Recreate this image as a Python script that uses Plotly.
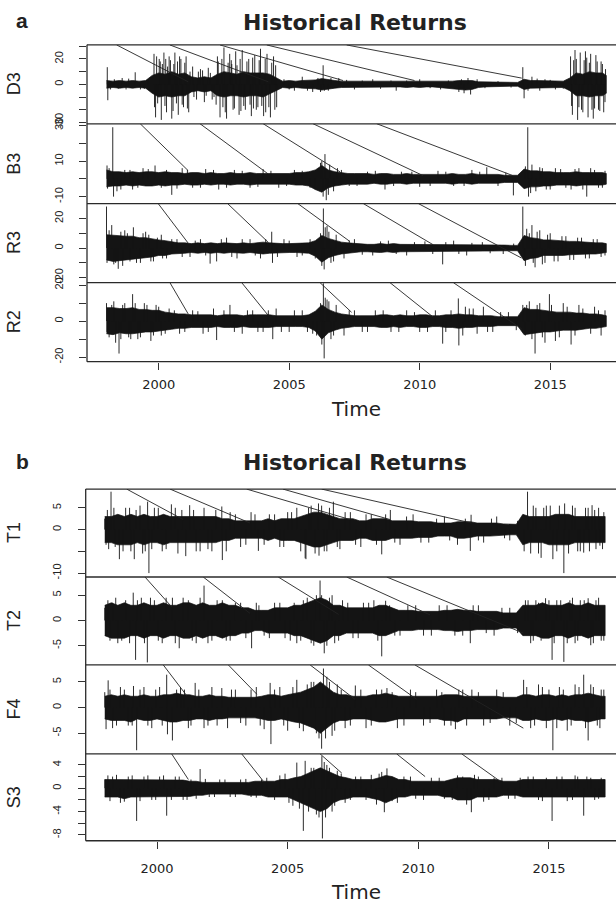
import plotly.graph_objects as go

W, H = 616, 909

# quarterly time grid (plus last observation)
T = [1998.0 + 0.25 * i for i in range(77)] + [2017.15]

# ======================= Panel a =======================
D3_hi = [3, 2.5, 3, 2.5, 3, 2.5, 3, 7, 9, 8,
         10, 8, 9, 6, 5, 6, 5, 8, 10, 9,
         8, 10, 9, 9, 9, 8, 5, 2.5, 3, 2.5,
         3, 3, 3.5, 4.5, 3.5, 3, 2.5, 2.5, 2.5, 2,
         2.5, 2, 2.5, 2, 2, 2, 2.5, 2, 2.5, 2,
         2, 2, 2, 2.5, 3, 3, 3, 2, 2, 1.5,
         1.5, 1.5, 1.5, 1.5, 4, 3, 3, 3, 2.5, 2.5,
         2.5, 5, 9, 8, 10, 9, 9, 7]
D3_lo = [-3, -2.5, -3, -2.5, -3, -2.5, -3, -7, -10, -9,
         -10, -9, -9, -6, -5, -6, -5, -9, -10, -9,
         -9, -10, -9, -9, -10, -8, -5, -2.5, -3, -2.5,
         -3, -3.5, -3.5, -4.5, -3.5, -3, -2.5, -2.5, -2.5, -2,
         -2.5, -2, -2.5, -2, -2, -2, -2.5, -2, -2.5, -2,
         -2, -2, -2.5, -3, -4, -4.5, -4, -2.5, -2, -1.5,
         -1.5, -1.5, -1.5, -1.5, -4, -3, -3, -3, -2.5, -2.5,
         -2.5, -5, -9, -9, -10, -9, -9, -7]
D3_spikes = [
    (1998.03, 13.5), (1998.05, -12.5), (1998.15, -4), (1998.3, 4), (1998.45, -3.5), (1998.6, 5),
    (1998.75, -4), (1998.85, 4.5), (1999.1, 9.5), (1999.3, -4), (1999.45, -3.5), (1999.6, 4),
    (1999.82, 24), (1999.84, -18), (1999.88, -26), (1999.92, 22), (1999.96, -15), (2000.02, 20),
    (2000.06, 18), (2000.1, -28), (2000.14, 16), (2000.2, 25), (2000.24, -17), (2000.27, 20),
    (2000.3, -22), (2000.34, 14), (2000.4, 22), (2000.45, 19), (2000.5, -27), (2000.55, -21),
    (2000.58, 16), (2000.62, 25), (2000.68, -15), (2000.72, 18), (2000.75, -24), (2000.8, 22),
    (2000.85, 20), (2000.9, -16), (2000.95, -18), (2001.0, 17), (2001.05, 22), (2001.1, -19),
    (2001.15, -22), (2001.2, 10), (2001.3, 14), (2001.35, -10), (2001.45, -12), (2001.52, 10),
    (2001.6, 12), (2001.68, 11), (2001.75, -14), (2001.82, -9), (2001.9, 13), (2001.98, 9),
    (2002.05, -12), (2002.12, -10), (2002.2, -16), (2002.25, 22), (2002.28, 18), (2002.35, -26),
    (2002.42, 20), (2002.46, -18), (2002.5, 29), (2002.55, -22), (2002.6, -27), (2002.66, 17),
    (2002.72, 24), (2002.78, 19), (2002.8, 16), (2002.85, -20), (2002.9, -19), (2002.95, 26),
    (2003.0, 15), (2003.08, -24), (2003.12, 20), (2003.15, -21), (2003.2, 27), (2003.26, -17),
    (2003.32, -20), (2003.38, 18), (2003.45, 20), (2003.5, -16), (2003.55, -25), (2003.6, 21),
    (2003.63, -19), (2003.68, 23), (2003.74, -20), (2003.8, -18), (2003.85, 19), (2003.9, 28),
    (2003.95, -17), (2004.02, -25), (2004.08, 20), (2004.1, -22), (2004.15, 24), (2004.22, -18),
    (2004.28, -26), (2004.33, 17), (2004.4, 22), (2004.45, -20), (2004.48, 15), (2004.52, -18),
    (2004.8, 4), (2005.0, -4), (2005.2, -5), (2005.5, 6), (2005.7, -5), (2005.9, -6), (2006.1, 5),
    (2006.2, -6), (2006.3, 15), (2006.35, -5), (2006.5, -5), (2006.6, 5), (2006.9, 5), (2007.2, 3.5),
    (2007.5, -4), (2007.8, 3), (2008.2, 4), (2008.5, -3.5), (2008.9, 3), (2009.1, -5), (2009.5, 3),
    (2010.0, 4), (2010.4, -3), (2010.8, -4), (2011.1, 3), (2011.5, -6), (2011.6, 4), (2011.7, -7),
    (2011.85, 5), (2011.95, -8), (2012.2, 4), (2012.5, -3), (2013.0, 2.5), (2013.5, -2.5),
    (2013.95, 13.5), (2014.0, -11), (2014.15, -5), (2014.3, 6), (2014.5, 4.5), (2014.6, -5),
    (2014.8, 4), (2015.0, 3.5), (2015.2, -4), (2015.5, -3.5),
    (2015.78, 22), (2015.82, -17), (2015.85, -24), (2015.9, 19), (2015.95, 27), (2016.0, 20),
    (2016.05, -28), (2016.1, -18), (2016.15, 25), (2016.2, -20), (2016.25, -22), (2016.3, 19),
    (2016.35, 26), (2016.4, 21), (2016.45, -26), (2016.5, 17), (2016.55, 24), (2016.6, -20),
    (2016.65, -27), (2016.7, -19), (2016.75, 23), (2016.8, 18), (2016.85, -20), (2016.9, -21),
    (2016.95, 18), (2017.0, 16), (2017.05, -22), (2017.1, -14), (2017.12, 12)]
D3_lines = [(1998.39, 31, 2001.13, 2), (2000.43, 31, 2004.2, 2), (2002.35, 31, 2007.06, 3),
            (2004.14, 31, 2009.8, 3), (2007.2, 31, 2013.91, 4.9)]

B3_hi = [5, 4, 4, 3.5, 4, 3.5, 4, 4, 3.5, 4,
         3.5, 3.5, 3, 3.5, 3.5, 3, 3.5, 3, 3, 3.5,
         3, 3, 3.5, 3, 3, 3, 3, 3, 3, 3.5,
         3.5, 4, 5, 7.5, 5, 4, 3.5, 3, 3, 3,
         3, 2.5, 3, 3, 2.5, 2.5, 3, 2.5, 2.5, 2.5,
         2.5, 2.5, 2.5, 3, 2.5, 2.5, 3, 2.5, 2.5, 2.5,
         2.5, 2, 2, 2, 5.5, 4.5, 4.5, 4, 4, 3.5,
         3.5, 3.5, 4, 3.5, 3.5, 3.5, 3.5, 3]
B3_lo = [-4.5, -4, -4, -3.5, -4, -3.5, -4, -4, -3.5, -4,
         -3.5, -3.5, -3, -3.5, -3.5, -3, -3.5, -3, -3, -3.5,
         -3, -3, -3.5, -3, -3, -3, -3, -3, -3, -3.5,
         -3.5, -4, -6, -7.5, -5, -4, -3.5, -3, -3, -3,
         -3, -2.5, -3, -3, -2.5, -2.5, -3, -2.5, -2.5, -2.5,
         -2.5, -2.5, -2.5, -3, -2.5, -2.5, -3, -2.5, -2.5, -2.5,
         -2.5, -2, -2, -2, -5.5, -4.5, -4.5, -4, -4, -3.5,
         -3.5, -3.5, -4, -3.5, -3.5, -3.5, -3.5, -3]
B3_spikes = [
    (1998.02, 7.5), (1998.04, -5.5), (1998.1, 6), (1998.24, 29), (1998.27, -10), (1998.4, -7),
    (1998.55, -6), (1998.7, 5), (1998.9, 5), (1999.0, -6), (1999.2, -5), (1999.4, 6), (1999.6, 5.5),
    (1999.86, 7.5), (2000.1, -5), (2000.3, 5), (2000.5, -9), (2000.7, -5.5), (2000.9, 6),
    (2001.1, 5), (2001.3, -5), (2001.6, -5), (2001.8, 5.5), (2002.1, 5), (2002.3, -6), (2002.6, -5),
    (2002.9, 5), (2003.2, 4.5), (2003.5, -5), (2003.8, -4.5), (2004.0, 5.5), (2004.3, 4.5),
    (2004.6, -5), (2004.9, -4), (2005.2, 5), (2005.5, 4.5), (2005.8, -5), (2006.0, -6), (2006.2, 9),
    (2006.25, 10), (2006.3, -10), (2006.37, 13.9), (2006.42, -12), (2006.5, -9), (2006.55, 8),
    (2006.7, -7), (2006.85, 6), (2007.0, 5), (2007.3, -4), (2007.6, -4), (2008.0, 4), (2008.3, 4.5),
    (2008.67, -6), (2009.0, -4), (2009.3, 4), (2009.7, 4), (2010.0, -4.5), (2010.4, -4), (2010.7, 4.5),
    (2011.0, 4), (2011.3, -4), (2011.7, -4), (2012.0, 5), (2012.3, 4), (2012.57, 6.5), (2013.0, -4),
    (2013.3, 3.5), (2013.59, -9.3), (2014.05, 7), (2014.14, 29), (2014.17, -10), (2014.25, -8),
    (2014.3, 8), (2014.45, -7), (2014.6, 6.5), (2014.7, 6), (2014.85, -6), (2015.0, -6), (2015.2, 6),
    (2015.4, 5.5), (2015.6, -5), (2015.8, -6), (2015.95, 5.5), (2016.1, 6), (2016.25, -6),
    (2016.4, -10), (2016.55, 6), (2016.7, 5), (2016.85, -5), (2017.0, -5), (2017.1, 4.5)]
B3_lines = [(1999.29, 31, 2001.13, 4.6), (2001.58, 31, 2004.19, 2.8), (2004.0, 31, 2006.95, 3.9),
            (2005.91, 31, 2010.13, 1.8), (2008.35, 31, 2013.57, 1.8)]

R3_hi = [9, 8.5, 8.5, 8, 8, 7, 7, 6, 5.5, 5,
         4, 3.5, 3.5, 3, 3.5, 3, 3.5, 3, 3.5, 3,
         3, 3.5, 3, 3.5, 4, 3.5, 3, 3, 3, 3,
         3, 3.5, 5, 8.5, 6.5, 5, 4, 3.5, 3, 2.5,
         2.5, 2.5, 3, 2.5, 3, 2.5, 2.5, 2.5, 2.5, 2.5,
         2.5, 2.5, 2.5, 2.5, 2, 2, 2, 2, 2, 2,
         2, 2, 1.8, 1.8, 8.5, 7, 6.5, 5.5, 5.5, 5,
         5, 4.5, 4.5, 4, 4, 3.5, 3.5, 3]
R3_lo = [-8, -9, -8, -8, -7, -7, -6.5, -6, -5, -5,
         -4, -3.5, -3.5, -3, -3.5, -3, -3.5, -3, -3.5, -3,
         -3, -3.5, -3, -3.5, -4, -3.5, -3, -3, -3, -3,
         -3, -3.5, -5.5, -9.5, -6.5, -5, -4, -3, -3, -2.5,
         -2.5, -2.5, -3, -2.5, -3, -2.5, -2.5, -2.5, -2.5, -2.5,
         -2.5, -2.5, -2.5, -2.5, -2, -2, -2, -2, -2, -2,
         -2, -2, -1.8, -1.8, -8.5, -7, -6.5, -5, -5.5, -5,
         -5, -4.5, -4.5, -4, -4, -4, -3.5, -3]
R3_spikes = [
    (1998.0, 28), (1998.02, -10), (1998.1, 12), (1998.2, 15.5), (1998.28, -11), (1998.35, -10),
    (1998.45, -14), (1998.55, 11), (1998.62, -12), (1998.7, 12), (1998.8, 10), (1998.9, -9),
    (1999.03, 14), (1999.15, -10), (1999.3, -10), (1999.4, 10), (1999.5, 11), (1999.62, 9),
    (1999.7, -9), (1999.8, -9), (1999.95, 7), (2000.1, 9), (2000.15, -7), (2000.3, -7), (2000.5, 6),
    (2000.7, 6), (2000.9, -6), (2001.2, -6), (2001.4, 5), (2001.6, 6), (2001.8, -5), (2001.97, -10.5),
    (2002.22, -9), (2002.4, 6), (2002.6, 7), (2002.8, -6), (2003.0, -7), (2003.2, 6), (2003.5, 6),
    (2003.7, -5), (2003.9, -7), (2004.1, 6), (2004.33, 11), (2004.36, -10), (2004.55, -6),
    (2004.8, 6), (2005.0, 5), (2005.3, -6), (2005.5, -5), (2005.8, 6), (2006.0, -7), (2006.2, 10),
    (2006.25, -12), (2006.31, 26.7), (2006.34, -14.4), (2006.38, 14), (2006.45, 15), (2006.52, 11),
    (2006.6, -10), (2006.7, -9), (2006.8, 9), (2007.1, -7), (2007.3, 5), (2007.5, 6), (2007.8, -4.5),
    (2008.2, -5), (2008.5, 4.5), (2008.8, 5), (2009.1, -4), (2009.5, -5), (2009.8, 4), (2010.2, 4.5),
    (2010.5, -4), (2010.88, -11), (2011.0, 4), (2011.3, 5), (2011.5, -4), (2011.8, -5), (2012.0, 3.5),
    (2012.4, 4), (2012.7, -3.5), (2013.2, -4), (2013.6, 3), (2013.95, 28), (2013.98, -8),
    (2014.05, -12), (2014.1, 13), (2014.2, 10), (2014.3, 15.5), (2014.35, -10), (2014.42, -13),
    (2014.5, 11), (2014.6, 12), (2014.7, -11), (2014.8, -10), (2014.9, 9), (2015.0, 10),
    (2015.15, -9), (2015.3, -9), (2015.45, 8), (2015.6, 8), (2015.75, -8), (2015.9, -8), (2016.05, 7),
    (2016.2, 7), (2016.35, -7), (2016.5, -7), (2016.65, 6), (2016.8, 6), (2016.95, -6), (2017.1, -5)]
R3_lines = [(1999.98, 30, 2001.13, 3.3), (2002.64, 30, 2004.2, 3.8), (2005.33, 30, 2007.33, 4.4),
            (2007.84, 30, 2010.52, 2.2), (2009.95, 30, 2013.9, -6.7)]

R2_hi = [7.5, 7.5, 7, 7, 7.5, 6.5, 6.5, 6, 6, 5,
         4.5, 4, 4, 3.5, 3.5, 3.5, 3.5, 3, 3.5, 3.5,
         3.5, 3, 3.5, 3.5, 3.5, 3.5, 3, 3, 3, 3,
         3, 3.5, 5.5, 9, 6.5, 5, 4, 3.5, 3, 3,
         3, 3, 3.5, 3.5, 3, 3.5, 3, 3, 3.5, 3.5,
         3, 3, 3.5, 3.5, 4, 3.5, 3.5, 3, 3, 3,
         2.5, 2.5, 2.5, 2.5, 7.5, 6.5, 6.5, 6, 5.5, 5,
         5, 5, 4.5, 4.5, 4, 4, 3.5, 3]
R2_lo = [-7, -7.5, -6.5, -7, -7, -6.5, -6, -6, -5.5, -5,
         -4.5, -4, -4, -3.5, -3.5, -3.5, -3.5, -3, -3.5, -3.5,
         -3.5, -3, -3.5, -3.5, -3.5, -3.5, -3, -3, -3, -3,
         -3, -3.5, -5.5, -10, -6.5, -5, -4, -3.5, -3, -3,
         -3, -3, -3.5, -3.5, -3, -3.5, -3, -3, -3.5, -3.5,
         -3, -3, -3.5, -3.5, -4, -3.5, -3.5, -3, -3, -3,
         -2.5, -2.5, -2.5, -2.5, -7.5, -7, -6.5, -6, -6, -5.5,
         -5, -5, -5, -4.5, -4, -4, -3.5, -3]
R2_spikes = [
    (1998.0, 10), (1998.02, -6), (1998.1, -9), (1998.2, 9), (1998.28, 11), (1998.35, -12),
    (1998.48, -18), (1998.55, -10), (1998.62, 9), (1998.7, 10), (1998.85, -9), (1998.93, -10),
    (1999.0, 15), (1999.1, 10), (1999.2, -10), (1999.3, -9), (1999.45, 10), (1999.55, 9),
    (1999.7, -11), (1999.8, -8), (1999.9, 9), (2000.0, 8), (2000.1, -8), (2000.25, -7), (2000.4, 7),
    (2000.6, 6), (2000.8, -7), (2001.0, -6), (2001.3, 6), (2001.5, 5.5), (2001.7, -7), (2001.9, -6),
    (2002.1, 7), (2002.22, -10.5), (2002.5, 6), (2002.73, 9), (2002.9, -6), (2003.2, -7), (2003.4, 6),
    (2003.6, 6), (2003.8, -6), (2004.0, -6), (2004.2, 6), (2004.37, -10), (2004.5, 7), (2004.7, -6),
    (2005.0, -6), (2005.2, 6), (2005.5, 6), (2005.7, -6), (2005.9, -7), (2006.05, -8), (2006.2, 10),
    (2006.25, -13), (2006.31, 21), (2006.34, -20.7), (2006.38, 13), (2006.45, 12), (2006.52, 11),
    (2006.6, -10), (2006.7, -8), (2006.8, 9), (2007.1, -8), (2007.3, 6), (2007.5, 6), (2007.8, -6),
    (2008.0, -6), (2008.3, 6), (2008.6, 6), (2008.9, -6), (2009.2, -6), (2009.5, 6), (2009.8, 5),
    (2010.0, -6), (2010.3, -6), (2010.6, 6), (2010.88, -12.5), (2011.0, -6), (2011.2, 6),
    (2011.48, 12.6), (2011.5, -13.5), (2011.65, -8), (2011.75, 8), (2011.9, 7), (2012.05, 7),
    (2012.2, -7), (2012.44, 8), (2012.6, -6), (2012.8, -6), (2013.1, 5), (2013.4, 5), (2013.7, -5),
    (2013.95, 9), (2014.05, -8), (2014.1, 9), (2014.2, 11), (2014.3, -10), (2014.42, -18),
    (2014.5, 9), (2014.6, 10), (2014.7, -9), (2014.8, -12), (2014.97, 15), (2015.05, 9),
    (2015.2, -11), (2015.35, -9), (2015.5, 10), (2015.65, 8), (2015.8, -13), (2015.95, -8),
    (2016.1, 9), (2016.25, 7), (2016.55, -7), (2016.7, 8), (2016.85, 6), (2016.95, -8), (2017.1, 6)]
R2_lines = [(2000.43, 21.4, 2001.13, 4), (2003.18, 21.4, 2004.2, 3.1), (2006.18, 21.4, 2007.39, 4.9),
            (2008.86, 21.4, 2010.52, 2.2), (2011.29, 21.4, 2013.9, -4.2)]

# ======================= Panel b =======================
T1_hi = [3, 3, 3.5, 3, 3.5, 3, 3.5, 3, 3, 3.5,
         3, 3, 3, 3, 3, 3, 3, 3, 2.5, 2.5,
         2, 2, 2, 2, 2, 2.5, 2, 2.5, 2.5, 2.5,
         3, 3.5, 4, 4, 3.5, 3, 2.5, 2.5, 2.5, 2,
         2, 2.5, 2.5, 2.5, 2, 2, 2, 2, 1.8, 1.8,
         1.8, 1.5, 1.5, 1.5, 1.8, 1.8, 1.8, 1.5, 1.5, 1.5,
         1.5, 1.3, 1.2, 1.2, 3.5, 3, 3, 3, 3, 3.5,
         3.5, 3.5, 3, 3, 3, 3, 3, 3]
T1_lo = [-3, -3, -3.5, -3.5, -3.5, -3, -3.5, -3, -3, -3.5,
         -3, -3, -3, -3, -3, -3, -3, -3, -2.5, -2.5,
         -2, -2, -2, -2, -2, -2.5, -2, -2.5, -2.5, -2.5,
         -3, -3.5, -4, -4, -3.5, -3, -2.5, -2.5, -2.5, -2,
         -2, -2.5, -2.5, -2.5, -2, -2, -2, -2, -1.8, -1.8,
         -1.8, -1.5, -1.5, -1.5, -2, -2, -1.8, -1.5, -1.5, -1.5,
         -1.5, -1.3, -1.2, -1.2, -3.5, -3, -3, -3, -3.5, -3.5,
         -3.5, -3.5, -3, -3, -3, -3, -3, -3]
T1_spikes = [
    (1998.0, 2.5), (1998.05, -3.5), (1998.1, 4.5), (1998.15, -4.5), (1998.24, 8.7), (1998.35, 5),
    (1998.4, -4), (1998.56, -6.8), (1998.7, -5), (1998.8, 5), (1998.95, 5), (1999.0, -5),
    (1999.13, -6.8), (1999.2, 4.5), (1999.35, 5.5), (1999.45, -5.5), (1999.55, -5), (1999.64, 6.4),
    (1999.69, -10), (1999.8, -4.5), (1999.9, 5), (2000.05, 5), (2000.2, -5), (2000.35, -4.5),
    (2000.55, 5.8), (2000.7, 5), (2000.8, -5.5), (2000.95, 4.5), (2001.1, -6.1), (2001.25, 5.6),
    (2001.4, 4.5), (2001.5, -5), (2001.65, -5), (2001.8, 5), (2001.95, -4.5), (2002.1, -5),
    (2002.25, 4.5), (2002.48, 5.3), (2002.5, -7), (2002.65, -5), (2002.8, 4), (2003.0, 3.5),
    (2003.2, -4), (2003.4, -3.5), (2003.6, 4), (2003.75, 3.5), (2003.88, -4.9), (2004.1, -3.5),
    (2004.3, 3.5), (2004.5, 3.5), (2004.7, -4), (2004.85, -4), (2005.0, 4), (2005.15, 4),
    (2005.35, 5), (2005.5, -5), (2005.67, -6.6), (2005.7, -6.8), (2005.8, 5), (2005.9, 5.5),
    (2006.05, -5.5), (2006.18, 6), (2006.2, -6), (2006.3, 5.5), (2006.4, -5), (2006.5, -5),
    (2006.6, 5), (2006.75, 6.4), (2006.9, -4), (2007.0, -4.5), (2007.2, 4), (2007.4, 4),
    (2007.6, -3.5), (2007.8, -4), (2008.0, 3.5), (2008.2, 3.5), (2008.4, -3.5), (2008.6, -5.7),
    (2008.75, 3.5), (2008.93, 4.5), (2009.1, -3), (2009.3, -3.5), (2009.55, 3), (2009.8, 3.5),
    (2010.1, -3), (2010.4, -3), (2010.7, 2.5), (2011.0, 3), (2011.2, -2.5), (2011.5, -3.5),
    (2011.8, 2.5), (2011.99, -4.9), (2012.02, 3.4), (2012.3, -2.5), (2012.5, -3), (2012.8, 2.5),
    (2013.0, 3), (2013.3, -2), (2013.5, -2.5), (2013.8, 2), (2014.05, -5), (2014.18, 8.7),
    (2014.3, -5.5), (2014.4, 5.5), (2014.5, 5), (2014.6, -5.5), (2014.7, -6.5), (2014.8, 5),
    (2014.9, 5.5), (2015.05, 5.5), (2015.15, -6.8), (2015.3, -5), (2015.4, 5.5), (2015.57, -10),
    (2015.6, 6), (2015.75, -5.5), (2015.9, 5.5), (2016.0, 5), (2016.1, -5), (2016.2, -5),
    (2016.33, -5.3), (2016.4, 5), (2016.5, 5), (2016.55, -5), (2016.65, 5.6), (2016.75, 4.5),
    (2016.8, -4.5), (2016.9, 5), (2016.95, -3.7), (2017.05, -4.5), (2017.1, 4)]
T1_lines = [(1998.84, 9.3, 2001.0, 2.3), (2000.5, 9.3, 2003.56, 1.5), (2003.43, 9.3, 2007.39, 2.3),
            (2004.82, 9.3, 2008.92, 2.3), (2006.3, 9.3, 2012.04, 1.5)]

T2_hi = [3, 3.5, 3, 3.5, 3, 3, 3.5, 3, 3, 3.5,
         3, 3, 3.5, 3.5, 3, 3.5, 3, 3, 3.5, 3,
         3, 2.5, 2.5, 2, 2, 2, 2.5, 2.5, 2.5, 3,
         3, 3.5, 4, 4.5, 4, 3, 3, 2.5, 2.5, 2.5,
         2.5, 2.5, 3, 3, 2.5, 2, 2, 2, 1.8, 1.8,
         1.8, 1.8, 2, 2, 2.2, 2, 2, 1.8, 1.8, 1.8,
         1.8, 1.5, 1.5, 1.5, 3, 3, 3, 3.5, 3, 3,
         3, 3.5, 3, 3, 3.5, 3, 3, 3]
T2_lo = [-3, -3.5, -3.5, -3.5, -3, -3, -3.5, -3, -3, -3.5,
         -3, -3, -3.5, -3.5, -3, -3.5, -3, -3, -3.5, -3,
         -3, -2.5, -2.5, -2, -2, -2.5, -2.5, -2.5, -2.5, -3,
         -3, -3.5, -4, -4.5, -4, -3, -3, -2.5, -2.5, -2.5,
         -2.5, -2.5, -3, -3, -2.5, -2, -2, -2, -1.8, -1.8,
         -1.8, -1.8, -2, -2, -2.2, -2, -2, -1.8, -1.8, -1.8,
         -1.8, -1.5, -1.5, -1.5, -3, -3, -3, -3.5, -3.5, -3,
         -3, -3.5, -3, -3, -3.5, -3, -3, -3]
T2_spikes = [
    (1998.0, 2.5), (1998.03, -3), (1998.12, 4), (1998.2, -4), (1998.3, 3.5), (1998.42, 4.5),
    (1998.5, -4.5), (1998.65, -4), (1998.8, 4), (1998.95, -4.5), (1999.09, 5.5), (1999.18, -7.8),
    (1999.25, 4), (1999.4, 4.5), (1999.52, -4.5), (1999.63, -8.3), (1999.75, 4.5), (1999.9, 4),
    (2000.05, -4), (2000.2, -4.5), (2000.35, 4.5), (2000.59, 4.5), (2000.7, -4.5), (2000.85, -5.5),
    (2001.0, 4.5), (2001.2, 4), (2001.35, -4), (2001.5, -4.5), (2001.65, 4.5), (2001.8, 6.9),
    (2001.95, -4.5), (2002.1, -4), (2002.3, 4), (2002.5, 4), (2002.65, -4), (2002.8, -4),
    (2003.0, 3.5), (2003.2, 3.5), (2003.4, -3.5), (2003.62, -5.5), (2003.8, 3.5), (2003.9, 3),
    (2004.1, -3), (2004.3, -3.5), (2004.5, 3.5), (2004.7, 3.5), (2004.9, -3.5), (2005.1, -4),
    (2005.25, 3.5), (2005.35, -4.5), (2005.5, -4), (2005.6, 4), (2005.75, 4.5), (2005.9, -4.5),
    (2006.0, -5), (2006.1, 5), (2006.24, 7.9), (2006.3, 5), (2006.4, -6.5), (2006.5, -5),
    (2006.6, 4.5), (2006.7, 5), (2006.8, -4.5), (2006.95, -4), (2007.1, 4), (2007.3, 3.5),
    (2007.5, -3.5), (2007.7, -3.5), (2007.9, 3.5), (2008.1, 3.5), (2008.3, 4), (2008.45, -4),
    (2008.6, -7.1), (2008.75, 3.9), (2008.9, 3), (2009.1, -3), (2009.3, -3), (2009.6, 3),
    (2009.9, 3), (2010.2, -3), (2010.5, -3), (2010.8, 3), (2011.1, 3), (2011.4, -3), (2011.7, -3),
    (2011.99, -4.5), (2012.1, 3), (2012.3, 3), (2012.6, -2.5), (2012.9, -3), (2013.2, 2.5),
    (2013.5, 2.5), (2013.8, -2.5), (2014.1, 4), (2014.2, 4), (2014.3, -4.5), (2014.4, -4),
    (2014.5, 4), (2014.6, 3.5), (2014.7, -4), (2014.87, 4.4), (2015.0, 4), (2015.12, -7.8),
    (2015.2, -4.5), (2015.3, 4), (2015.45, 4), (2015.57, -8.2), (2015.7, -4.5), (2015.8, 4),
    (2015.9, 4.5), (2016.0, -4.5), (2016.1, -4), (2016.2, 4), (2016.35, 4), (2016.5, 4.4),
    (2016.6, -4.9), (2016.7, -4.5), (2016.8, 4), (2016.9, 4.5), (2017.0, -4), (2017.1, -4)]
T2_lines = [(1999.54, 8.6, 2000.56, 2.7), (2001.77, 8.6, 2003.56, 1.4), (2004.64, 8.6, 2006.95, 1.2),
            (2007.26, 8.6, 2010.45, 1.1), (2008.79, 8.6, 2014.02, -2.5)]

F4_hi = [2.2, 2.5, 2.2, 2.5, 2.2, 2.2, 2.5, 2.2, 2.2, 2.5,
         2.5, 2.8, 2.5, 2.5, 2.2, 2.2, 2.5, 2.2, 2.2, 2,
         2, 2, 2, 2, 2.2, 2.5, 2.5, 2.2, 2.5, 2.8,
         3, 3.5, 4, 5, 4, 3, 2.5, 2.5, 2.2, 2.2,
         2.2, 2.5, 2.5, 2.8, 2.5, 2.2, 2.2, 2.2, 2.2, 2.2,
         2.2, 2.2, 2.5, 2.5, 2.5, 2.2, 2.2, 2.2, 2.2, 2.2,
         2.2, 2, 2, 2, 2.5, 2.5, 2.2, 2.5, 2.5, 2.2,
         2.5, 2.2, 2.5, 2.5, 2.8, 2.5, 2.2, 2.2]
F4_lo = [-2.2, -2.5, -2.5, -2.5, -2.8, -2.2, -2.5, -2.5, -2.2, -2.5,
         -2.8, -2.8, -2.5, -2.5, -2.2, -2.2, -2.5, -2.2, -2.2, -2,
         -2, -2, -2, -2, -2.2, -2.5, -2.5, -2.2, -2.5, -2.8,
         -3, -3.5, -4, -5, -4, -3, -2.5, -2.5, -2.2, -2.2,
         -2.2, -2.5, -2.8, -2.8, -2.5, -2.2, -2.2, -2.2, -2.2, -2.2,
         -2.2, -2.2, -2.5, -2.5, -2.8, -2.2, -2.2, -2.2, -2.2, -2.2,
         -2.2, -2, -2, -2, -2.5, -2.5, -2.2, -2.5, -2.5, -2.2,
         -2.5, -2.2, -2.5, -2.5, -2.8, -2.5, -2.2, -2.2]
F4_spikes = [
    (1998.0, 3), (1998.05, -4.2), (1998.13, 5.3), (1998.2, 3.5), (1998.3, -4), (1998.45, -3.5),
    (1998.6, 4), (1998.75, 3.5), (1998.9, -3.5), (1999.05, -3.5), (1999.1, 4.2), (1999.22, -8.3),
    (1999.35, 3.5), (1999.5, 4), (1999.65, -3.5), (1999.8, -4), (1999.95, 3.5), (2000.1, 4),
    (2000.2, -3.5), (2000.37, 6.4), (2000.4, -5.2), (2000.59, -6.4), (2000.75, 3.5), (2000.9, 4),
    (2001.05, 3.5), (2001.2, -4), (2001.3, -3.5), (2001.46, 4.8), (2001.6, 3.5), (2001.8, -4),
    (2001.95, -3.5), (2002.1, 4), (2002.3, -3.5), (2002.48, 3.8), (2002.7, -4), (2002.85, 3.5),
    (2003.0, 3.5), (2003.2, -3), (2003.4, -3.5), (2003.6, 3.5), (2003.8, 4), (2003.95, -3.5),
    (2004.1, -4.2), (2004.33, 4.8), (2004.36, -7.1), (2004.5, 3.5), (2004.7, 4), (2004.85, -3.5),
    (2005.0, -4.5), (2005.2, 4), (2005.35, 5.4), (2005.45, -4), (2005.6, -4.6), (2005.75, 4.5),
    (2005.9, 5), (2006.0, 5), (2006.1, -5), (2006.2, -6), (2006.3, -8.0), (2006.37, 7.6),
    (2006.45, -6), (2006.5, 6), (2006.6, 5), (2006.7, -5.5), (2006.8, -4.5), (2006.9, 4.5),
    (2007.05, 3.5), (2007.2, -4), (2007.4, -3.5), (2007.59, 4.3), (2007.8, 3.5), (2008.0, -4),
    (2008.2, -3.5), (2008.4, 3.5), (2008.6, 3.5), (2008.8, 3.8), (2009.0, 3), (2009.2, -4),
    (2009.45, -3.5), (2009.7, 3.5), (2009.9, 3), (2010.2, -3.5), (2010.45, -3), (2010.7, 3.5),
    (2010.9, 3), (2011.0, -3.5), (2011.25, -3.5), (2011.42, -4.2), (2011.55, 3.5), (2011.7, 3.5),
    (2011.85, -3.5), (2012.05, 3.5), (2012.3, 3), (2012.5, -3.5), (2012.75, -3), (2013.0, 3.5),
    (2013.25, 3), (2013.5, -3.5), (2013.75, -3), (2014.03, 5.4), (2014.15, 4), (2014.3, -4),
    (2014.45, -3.5), (2014.6, 4.5), (2014.75, 4), (2014.9, -4), (2015.0, 3.5), (2015.15, -8.3),
    (2015.3, -4), (2015.4, 4), (2015.55, 3.5), (2015.7, -4.5), (2015.85, -3.5), (2016.0, 4.5),
    (2016.15, 4), (2016.33, 6.4), (2016.4, -4), (2016.5, -6.4), (2016.6, 4.5), (2016.7, 4),
    (2016.85, -3.5), (2016.95, -4), (2017.0, 3.5), (2017.1, 3.5)]
F4_lines = [(2000.24, 8.3, 2001.14, 2.3), (2002.73, 8.3, 2003.82, 2.6), (2005.86, 8.3, 2007.58, 1.6),
            (2008.09, 8.3, 2009.94, 1.6), (2009.87, 8.3, 2014.02, -4.0)]

S3_hi = [1.5, 1.5, 1.5, 1.5, 1.5, 1.5, 1.5, 1.5, 1.5, 1.5,
         1.5, 1.5, 1.4, 1.2, 1.2, 1, 1, 1, 1, 1,
         1, 1, 1, 1.2, 1.2, 1.2, 1.2, 1.5, 1.5, 1.8,
         2, 2.5, 3, 3.5, 3, 2.5, 2, 1.8, 1.5, 1.5,
         1.5, 1.5, 1.8, 2.2, 2, 1.5, 1.5, 1.2, 1.2, 1.2,
         1.2, 1.2, 1.2, 1.5, 1.8, 1.8, 1.8, 1.5, 1.5, 1.5,
         1.5, 1.2, 1.2, 1.2, 1.5, 1.5, 1.5, 1.5, 1.5, 1.5,
         1.5, 1.5, 1.5, 1.5, 1.5, 1.5, 1.5, 1.5]
S3_lo = [-1.5, -1.5, -1.5, -1.8, -1.5, -1.5, -1.5, -1.5, -1.5, -1.5,
         -1.5, -1.5, -1.4, -1.4, -1.2, -1.2, -1, -1, -1, -1,
         -1, -1, -1.2, -1.2, -1.2, -1.5, -1.5, -1.5, -1.5, -2,
         -2.5, -3, -3.5, -4, -3.5, -2.5, -2, -1.8, -1.5, -1.5,
         -1.5, -1.8, -2, -2.5, -2, -1.5, -1.5, -1.2, -1.2, -1.2,
         -1.2, -1.2, -1.5, -1.5, -2, -2, -2, -1.5, -1.5, -1.5,
         -1.5, -1.2, -1.2, -1.2, -1.5, -1.5, -1.5, -1.5, -1.5, -1.5,
         -1.5, -1.5, -1.5, -1.5, -1.5, -1.5, -1.5, -1.5]
S3_spikes = [
    (1998.0, 1.5), (1998.02, -1.5), (1998.12, 2.2), (1998.2, -2.2), (1998.3, 2), (1998.45, 2.3),
    (1998.6, -2.5), (1998.75, -2.3), (1998.9, 2), (1999.05, 2.2), (1999.22, -5.6), (1999.35, -2.2),
    (1999.5, 2), (1999.65, 2.2), (1999.8, -2), (1999.95, -2), (2000.1, 2), (2000.25, 2.2),
    (2000.37, -4.7), (2000.55, -2), (2000.7, 2), (2000.85, 2), (2001.0, -2), (2001.15, -2),
    (2001.3, 1.5), (2001.5, -1.8), (2001.65, 3.3), (2001.85, 1.6), (2002.0, -1.5), (2002.2, -1.5),
    (2002.4, 1.5), (2002.6, 1.5), (2002.8, -1.5), (2003.0, -1.5), (2003.2, 1.5), (2003.4, 1.6),
    (2003.6, -1.5), (2003.8, -1.6), (2004.0, 1.5), (2004.2, 1.8), (2004.5, -2), (2004.7, 2.2),
    (2004.9, 2.5), (2005.05, -2.5), (2005.2, -3), (2005.35, 4.4), (2005.45, -3.5), (2005.6, -7.3),
    (2005.67, 4.7), (2005.8, -4), (2005.9, 3.5), (2006.0, 3.5), (2006.1, -4.5), (2006.2, -5),
    (2006.31, 5.5), (2006.33, -8.6), (2006.4, 4.5), (2006.45, -5), (2006.5, 4), (2006.6, 3.5),
    (2006.7, -4), (2006.8, -3), (2006.9, 3), (2007.05, 2.5), (2007.2, -2.5), (2007.4, -2),
    (2007.6, 2), (2007.8, 2), (2008.0, -2), (2008.2, 2.3), (2008.4, -2.8), (2008.5, 2.5),
    (2008.6, 2.8), (2008.7, -4.1), (2008.8, 3.4), (2009.0, -2.2), (2009.2, -2.5), (2009.45, 2),
    (2009.7, 2), (2009.9, -1.8), (2010.2, -2), (2010.5, 1.8), (2010.8, 1.8), (2011.0, -1.8),
    (2011.3, -2), (2011.5, 2.2), (2011.7, 2), (2011.85, -2.8), (2012.03, -4.1), (2012.15, 2.3),
    (2012.3, 2), (2012.5, -2.3), (2012.7, -2), (2012.9, 1.8), (2013.2, 1.8), (2013.45, -1.8),
    (2013.7, -1.8), (2013.9, 1.8), (2014.2, 2), (2014.4, 2), (2014.6, -2), (2014.75, -2.2),
    (2014.9, 1.8), (2015.12, -5.6), (2015.3, 2), (2015.5, 2), (2015.7, -2.2), (2015.9, -2),
    (2016.0, 2.2), (2016.1, 2), (2016.33, -4.7), (2016.45, 2), (2016.6, 1.8), (2016.75, -2),
    (2016.9, -1.8), (2017.0, 1.8), (2017.1, 1.5)]
S3_lines = [(2000.56, 5.9, 2001.2, 1.5), (2003.24, 5.9, 2004.07, 1.2), (2006.24, 5.9, 2007.07, 2.6),
            (2009.17, 5.9, 2010.26, 2.0), (2011.66, 5.9, 2013.13, 1.2)]

X_TICKS = [2000, 2005, 2010, 2015]

# ======================= drawing =======================
def py(y):
    return 1 - y / H


def px(x):
    return x / W


series = [
    ("D3", D3_hi, D3_lo, D3_spikes, D3_lines, "x", 39.3, 119.3, [-31.1, 31.1],
     [-30, -20, -10, 0, 10, 20, 30], ["-30", "", "", "0", "", "20", ""]),
    ("B3", B3_hi, B3_lo, B3_spikes, B3_lines, "x", 119.3, 200, [-13.9, 30.9],
     [-10, 0, 10, 20, 30], ["-10", "", "10", "", "30"]),
    ("R3", R3_hi, R3_lo, R3_spikes, R3_lines, "x", 200, 280, [-23.3, 30],
     [-20, -10, 0, 10, 20], ["-20", "", "0", "", "20"]),
    ("R2", R2_hi, R2_lo, R2_spikes, R2_lines, "x", 280, 360, [-22.5, 21.4],
     [-20, -10, 0, 10, 20], ["-20", "", "0", "", "20"]),
    ("T1", T1_hi, T1_lo, T1_spikes, T1_lines, "x2", 489, 578, [-10.9, 9.3],
     [-10, -5, 0, 5], ["-10", "", "0", "5"]),
    ("T2", T2_hi, T2_lo, T2_spikes, T2_lines, "x2", 578, 667, [-8.8, 8.6],
     [-5, 0, 5], ["-5", "0", "5"]),
    ("F4", F4_hi, F4_lo, F4_spikes, F4_lines, "x2", 667, 757, [-9.0, 8.3],
     [-5, 0, 5], ["-5", "0", "5"]),
    ("S3", S3_hi, S3_lo, S3_spikes, S3_lines, "x2", 757, 845, [-9.0, 5.9],
     [-8, -6, -4, -2, 0, 2, 4], ["-8", "", "-4", "", "0", "", "4"]),
]

INK = "#141414"
fig = go.Figure()
layout = {}
annotations = []
for k, (name, hi, lo, spikes, segs, xa, top, bot, yr, tv, tt) in enumerate(series):
    ya = "y" if k == 0 else "y%d" % (k + 1)
    ykey = "yaxis" if k == 0 else "yaxis%d" % (k + 1)
    fig.add_trace(go.Scatter(x=T + T[::-1], y=hi + lo[::-1], fill="toself", fillcolor=INK,
                             mode="lines", line=dict(color=INK, width=0.7),
                             xaxis=xa, yaxis=ya, hoverinfo="skip", showlegend=False))
    xs, ys = [], []
    for t, v in spikes:
        xs += [t, t, None]
        ys += [0, v, None]
    fig.add_trace(go.Scatter(x=xs, y=ys, mode="lines", line=dict(color=INK, width=0.9),
                             xaxis=xa, yaxis=ya, hoverinfo="skip", showlegend=False))
    xs, ys = [], []
    for a, va, b, vb in segs:
        xs += [a, b, None]
        ys += [va, vb, None]
    fig.add_trace(go.Scatter(x=xs, y=ys, mode="lines", line=dict(color="#222", width=0.9),
                             xaxis=xa, yaxis=ya, hoverinfo="skip", showlegend=False))
    layout[ykey] = dict(domain=[py(bot), py(top)], range=yr, anchor=xa,
                        tickmode="array", tickvals=tv, ticktext=tt,
                        ticks="outside", ticklen=7, tickwidth=1, tickcolor="#333",
                        tickangle=-90, ticklabelstandoff=12,
                        tickfont=dict(family="Liberation Sans", size=11, color="#222"),
                        showgrid=False, zeroline=False, showline=False, fixedrange=True)
    annotations.append(dict(text=name, x=px(14), y=py((top + bot) / 2), xref="paper", yref="paper",
                            showarrow=False, textangle=-90, xanchor="center", yanchor="middle",
                            font=dict(family="Liberation Sans", size=18, color="#222")))

LEFT_A, LEFT_B = 87.0, 85.7
layout["xaxis"] = dict(domain=[px(LEFT_A), 1], range=[1997.253, 2017.521], anchor="y4",
                       tickmode="array", tickvals=X_TICKS, ticks="outside", ticklen=7,
                       tickwidth=1, tickcolor="#333", ticklabelstandoff=4,
                       tickfont=dict(family="DejaVu Sans", size=13, color="#222"),
                       showgrid=False, zeroline=False, showline=False)
layout["xaxis2"] = dict(domain=[px(LEFT_B), 1], range=[1997.271, 2017.566], anchor="y8",
                        tickmode="array", tickvals=X_TICKS, ticks="outside", ticklen=7,
                        tickwidth=1, tickcolor="#333", ticklabelstandoff=9,
                        tickfont=dict(family="DejaVu Sans", size=13, color="#222"),
                        showgrid=False, zeroline=False, showline=False)

shapes = []
for left, ys_ in ((LEFT_A, [39.3, 119.3, 200, 280, 360]), (LEFT_B, [489, 578, 667, 757, 845])):
    for yy in ys_:
        shapes.append(dict(type="line", xref="paper", yref="paper", x0=px(left), x1=1,
                           y0=py(yy), y1=py(yy), line=dict(color="#2a2a2a", width=1.3)))
    shapes.append(dict(type="line", xref="paper", yref="paper", x0=px(left), x1=px(left),
                       y0=py(ys_[0]), y1=py(ys_[-1]), line=dict(color="#2a2a2a", width=1.3)))

for lab, ly, ty, timey in (("a", 15, 17, 408), ("b", 461, 462, 897)):
    annotations.append(dict(text="<b>%s</b>" % lab, x=px(22), y=py(ly), xref="paper", yref="paper",
                            showarrow=False, xanchor="center", yanchor="middle",
                            font=dict(family="Liberation Sans", size=21, color="#222")))
    annotations.append(dict(text="<b>Historical Returns</b>", x=px(355), y=py(ty), xref="paper",
                            yref="paper", showarrow=False, xanchor="center", yanchor="middle",
                            font=dict(family="DejaVu Sans", size=22, color="#222")))
    annotations.append(dict(text="Time", x=px(356), y=py(timey), xref="paper", yref="paper",
                            showarrow=False, xanchor="center", yanchor="middle",
                            font=dict(family="DejaVu Sans", size=20, color="#222")))

fig.update_layout(width=W, height=H, margin=dict(l=0, r=0, t=0, b=0),
                  paper_bgcolor="white", plot_bgcolor="white", showlegend=False,
                  shapes=shapes, annotations=annotations, **layout)

fig.write_html("out.html", config={"displayModeBar": False, "staticPlot": True},
               post_script="document.body.style.margin='0px';")
